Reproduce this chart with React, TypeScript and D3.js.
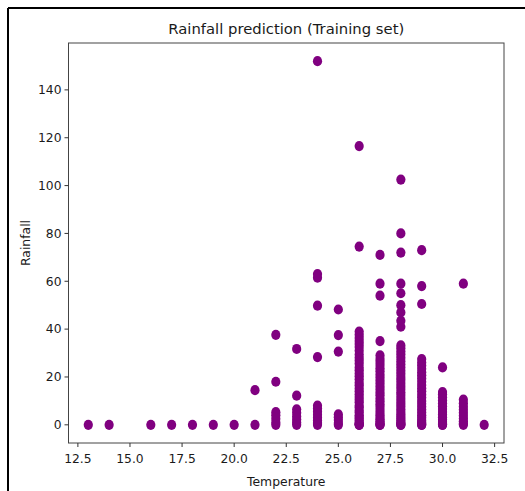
import * as d3 from 'd3';

// temperature columns and the rainfall readings at each one
const temperatures = [13, 14, 16, 17, 18, 19, 20, 21, 22, 23, 24, 25, 26, 27, 28, 29, 30, 31, 32];

const rainfallByTemp: number[][] = [
  [0],
  [0],
  [0],
  [0],
  [0],
  [0],
  [0],
  [0, 14.5],
  [0, 1, 2.5, 4, 5.3, 18, 37.6],
  [0, 1, 2.2, 3.5, 5, 6.5, 12.2, 31.7],
  [0, 0.8, 1.8, 3, 4.2, 5.5, 6.8, 8, 28.3, 49.8, 61.5, 63, 152],
  [0, 0.8, 2, 3.2, 4.4, 30.6, 37.5, 48.2],
  [0, 0, 0.2, 0.5, 1, 1.8, 2.5, 3.3, 4, 5.1, 6, 7.2, 8, 9.4, 10.5, 11.6, 12.8, 14, 15.2, 16.5, 17.6, 19, 20.3,
    21.5, 22.8, 24, 25.5, 26.8, 28, 29.4, 31, 32.5, 33.8, 35, 36.3, 37.6, 39, 74.5, 116.5],
  [0, 0, 0.3, 0.8, 1.5, 2.2, 3, 4, 5, 6.2, 7.5, 8.6, 9.8, 11, 12.4, 13.5, 14.8, 16, 17.3, 18.5, 19.8, 21, 22.4,
    23.6, 25, 26.3, 27.5, 29, 35, 54, 59, 71],
  [0, 0, 0.4, 1, 1.7, 2.5, 3.4, 4.3, 5.4, 6.5, 7.7, 8.8, 10, 11.2, 12.5, 13.6, 15, 16.2, 17.5, 18.8, 20, 21.3,
    22.6, 24, 25.3, 26.6, 28, 29.4, 30.6, 32, 33.2, 41, 43.5, 47, 50, 55, 59, 72, 80, 102.5],
  [0, 0, 0.5, 1.2, 2, 3, 4, 5.2, 6.4, 7.6, 8.8, 10, 11.4, 12.6, 14, 15.3, 16.6, 18, 19.4, 20.7, 22, 23.4, 24.8,
    26, 27.5, 50.5, 58, 73],
  [0, 0, 0.4, 1.2, 2.1, 3.2, 4.3, 5.4, 6.6, 7.8, 9, 10.2, 11.5, 12.8, 13.7, 24],
  [0, 0.6, 1.5, 2.6, 3.8, 5, 6.3, 7.6, 9, 10.5, 59],
  [0],
];

const xTicks = [12.5, 15, 17.5, 20, 22.5, 25, 27.5, 30, 32.5];
const yTicks = [0, 20, 40, 60, 80, 100, 120, 140];

const W = 525;
const H = 491;
const plot = { left: 68.5, right: 504, top: 43, bottom: 443 };
const font = 'DejaVu Sans, sans-serif';

export default function App() {
  const points = temperatures.flatMap((t, i) => rainfallByTemp[i].map((r) => ({ t, r })));

  const x = d3.scaleLinear().domain([12.05, 32.95]).range([plot.left, plot.right]);
  const y = d3.scaleLinear().domain([-7.6, 159.6]).range([plot.bottom, plot.top]);

  return (
    <svg
      width={W}
      height={H}
      style={{ position: 'absolute', left: 0, top: 0, background: '#fff' }}
      fontFamily={font}
    >
      {/* screenshot frame */}
      <line x1={8} y1={8} x2={W} y2={8} stroke="#000" strokeWidth={2} />
      <line x1={8} y1={8} x2={8} y2={H} stroke="#000" strokeWidth={2} />

      <text x={(plot.left + plot.right) / 2} y={34} textAnchor="middle" fontSize={14.8} fill="#1a1a1a">
        Rainfall prediction (Training set)
      </text>

      {points.map((d, i) => (
        <ellipse key={i} cx={x(d.t)} cy={y(d.r)} rx={4.6} ry={5.1} fill="#800080" />
      ))}

      <rect
        x={plot.left}
        y={plot.top}
        width={plot.right - plot.left}
        height={plot.bottom - plot.top}
        fill="none"
        stroke="#444"
        strokeWidth={1}
      />

      {xTicks.map((t) => (
        <g key={t} transform={`translate(${x(t)},${plot.bottom})`}>
          <line y2={4} stroke="#333" />
          <text y={20} textAnchor="middle" fontSize={12.3} fill="#1a1a1a">
            {t.toFixed(1)}
          </text>
        </g>
      ))}

      {yTicks.map((t) => (
        <g key={t} transform={`translate(${plot.left},${y(t)})`}>
          <line x2={-4} stroke="#333" />
          <text x={-7} dy="0.35em" textAnchor="end" fontSize={12.3} fill="#1a1a1a">
            {t}
          </text>
        </g>
      ))}

      <text x={(plot.left + plot.right) / 2} y={486} textAnchor="middle" fontSize={12.4} fill="#1a1a1a">
        Temperature
      </text>
      <text
        transform={`translate(30,${(plot.top + plot.bottom) / 2}) rotate(-90)`}
        textAnchor="middle"
        fontSize={12.4}
        fill="#1a1a1a"
      >
        Rainfall
      </text>
    </svg>
  );
}
